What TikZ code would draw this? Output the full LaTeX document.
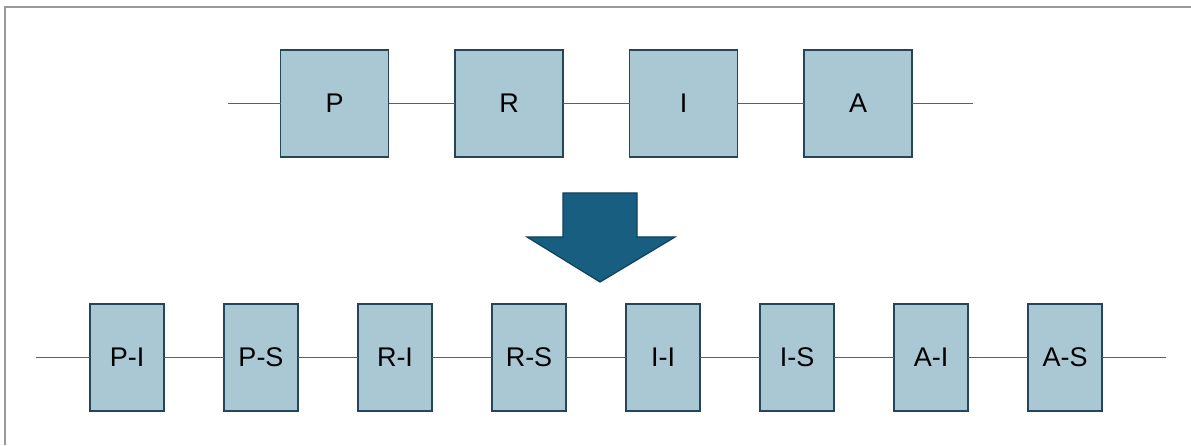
\documentclass[tikz,border=0pt]{standalone}
\usepackage{fontspec}
\setmainfont{Liberation Sans}
\usetikzlibrary{positioning}
\definecolor{boxfill}{HTML}{AAC8D4}
\definecolor{boxline}{HTML}{23465A}
\definecolor{topwire}{HTML}{3C6A82}
\definecolor{botwire}{HTML}{2A7094}
\definecolor{bigarrow}{HTML}{185E80}
\definecolor{bigarrowline}{HTML}{10405A}
\begin{document}
\begin{tikzpicture}[
    x=1pt, y=1pt,
    stage/.style={rectangle, draw=boxline, line width=1.3pt, fill=boxfill, inner sep=0pt, outer sep=0pt, font=\fontsize{27}{32}\selectfont},
    bigstage/.style={stage, minimum width=108pt, minimum height=107pt},
    substage/.style={stage, minimum width=74pt, minimum height=107pt},
    wire/.style={line width=1.1pt}
]
    \useasboundingbox (0,0) rectangle (1191,445);
    % frame
    \draw[gray!80, line width=1.6pt] (5,0) -- (5,438) -- (1191,438);

    % top row
    \node[bigstage] (p) at (334.5,341.5) {P};
    \node[bigstage, right=66.5pt of p] (r) {R};
    \node[bigstage, right=66.5pt of r] (i) {I};
    \node[bigstage, right=66.5pt of i] (a) {A};
    \coordinate (topin) at (228,341.5);
    \coordinate (topout) at (973,341.5);

    \draw[wire, topwire] (topin) -- (p);
    \draw[wire, topwire] (p) -- (r);
    \draw[wire, topwire] (r) -- (i);
    \draw[wire, topwire] (i) -- (a);
    \draw[wire, topwire] (a) -- (topout);

    % big arrow
    \draw[fill=bigarrow, draw=bigarrowline, line width=1.2pt, line join=miter]
        (563,252) -- (637,252) -- (637,208) -- (675,208) -- (600,163)
        -- (527,208) -- (563,208) -- cycle;

    % bottom row
    \node[substage] (pi) at (127,87.5) {P-I};
    \node[substage, right=60pt of pi] (ps) {P-S};
    \node[substage, right=60pt of ps] (ri) {R-I};
    \node[substage, right=60pt of ri] (rs) {R-S};
    \node[substage, right=60pt of rs] (ii) {I-I};
    \node[substage, right=60pt of ii] (is) {I-S};
    \node[substage, right=60pt of is] (ai) {A-I};
    \node[substage, right=60pt of ai] (as) {A-S};
    \coordinate (botin) at (36,87.5);
    \coordinate (botout) at (1166,87.5);

    \draw[wire, botwire] (botin) -- (pi);
    \draw[wire, botwire] (pi) -- (ps);
    \draw[wire, botwire] (ps) -- (ri);
    \draw[wire, botwire] (ri) -- (rs);
    \draw[wire, botwire] (rs) -- (ii);
    \draw[wire, botwire] (ii) -- (is);
    \draw[wire, botwire] (is) -- (ai);
    \draw[wire, botwire] (ai) -- (as);
    \draw[wire, botwire] (as) -- (botout);
\end{tikzpicture}
\end{document}
